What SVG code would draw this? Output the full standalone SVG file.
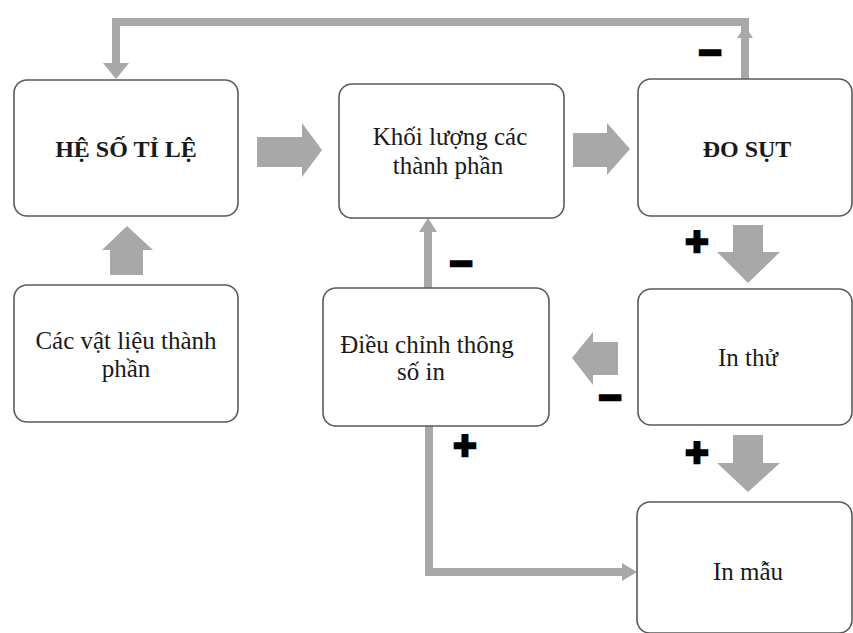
<svg xmlns="http://www.w3.org/2000/svg" width="853" height="633" viewBox="0 0 853 633">
<defs>
<style>
.box{fill:#fff;stroke:#5a5a5a;stroke-width:1.6}
.t{font-family:"Liberation Serif","Times New Roman",serif;font-size:25px;fill:#1a1a1a;text-anchor:middle}
.b{font-weight:bold;font-size:24px}
.blk{fill:#a8a8a8}
.ln{fill:none;stroke:#a8a8a8;stroke-width:8}
.sg{font-family:"Liberation Sans",Arial,sans-serif;font-weight:bold;font-size:40px;fill:#000;stroke:#000;stroke-width:2.5;text-anchor:middle}
</style>
</defs>
<rect width="853" height="633" fill="#fff"/>
<g id="connectors">
<polyline class="ln" points="745,79 745,22 116,22 116,64"/>
<polygon class="blk" points="103,63 129,63 116,79"/>
<polygon class="blk" points="737,38 753,38 745,26"/>
<line class="ln" x1="428" y1="288" x2="428" y2="231"/>
<polygon class="blk" points="419,232 437,232 428,218"/>
<polyline class="ln" points="429,426 429,572 623,572"/>
<polygon class="blk" points="622,563 622,581 637,572"/>
<polygon class="blk" points="257,137 302,137 302,123 322,150 302,177 302,167 257,167"/>
<polygon class="blk" points="573,133 607,133 607,123 630,149 607,175 607,167 573,167"/>
<polygon class="blk" points="110,275 110,250 102,250 127,226 153,250 143,250 143,275"/>
<polygon class="blk" points="733,225 763,225 763,252 780,252 748,283 717,252 733,252"/>
<polygon class="blk" points="618,342 593,342 593,332 572,358 593,385 593,375 618,375"/>
<polygon class="blk" points="733,435 763,435 763,463 780,463 748,492 717,463 733,463"/>
<text class="sg" x="710" y="66">−</text>
<text class="sg" x="697" y="255">+</text>
<text class="sg" x="461" y="277">−</text>
<text class="sg" x="610" y="411">−</text>
<text class="sg" x="697" y="466">+</text>
<text class="sg" x="465" y="459">+</text>
</g>
<g id="he-so-ti-le">
<rect class="box" x="14" y="80" width="224" height="136" rx="13"/>
<text class="t b" x="126" y="157">HỆ SỐ TỈ LỆ</text>
</g>
<g id="khoi-luong">
<rect class="box" x="339" y="84" width="225" height="134" rx="13"/>
<text class="t" x="450" y="145">Khối lượng các</text>
<text class="t" x="448" y="174">thành phần</text>
</g>
<g id="do-sut">
<rect class="box" x="638" y="79" width="214" height="137" rx="13"/>
<text class="t b" x="747" y="157">ĐO SỤT</text>
</g>
<g id="vat-lieu">
<rect class="box" x="14" y="285" width="224" height="137" rx="13"/>
<text class="t" x="126" y="349">Các vật liệu thành</text>
<text class="t" x="126" y="377">phần</text>
</g>
<g id="dieu-chinh">
<rect class="box" x="323" y="288" width="226" height="138" rx="13"/>
<text class="t" x="427" y="353">Điều chỉnh thông</text>
<text class="t" x="421" y="380">số in</text>
</g>
<g id="in-thu">
<rect class="box" x="638" y="289" width="214" height="136" rx="13"/>
<text class="t" x="748" y="366">In thử</text>
</g>
<g id="in-mau">
<rect class="box" x="637" y="502" width="215" height="131" rx="13"/>
<text class="t" x="748" y="580">In mẫu</text>
</g>
</svg>
